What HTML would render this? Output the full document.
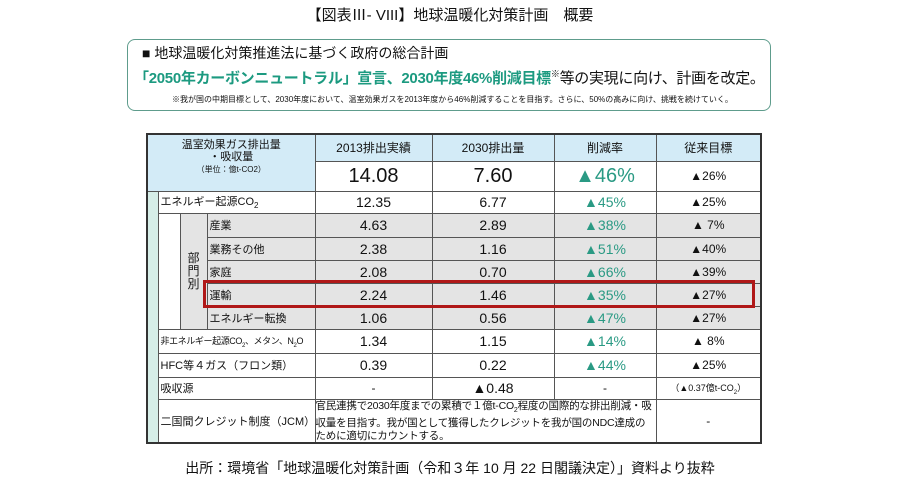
<!DOCTYPE html>
<html><head><meta charset="utf-8">
<style>
body{margin:0;width:900px;height:481px;background:#fff;position:relative;font-family:"Liberation Sans","Noto Sans CJK JP",sans-serif;color:#111;overflow:hidden}
.abs{position:absolute}
table{position:absolute;left:146px;top:133px;width:614px;border-collapse:collapse;table-layout:fixed;border:2px solid #333}
td{border:1px solid #555;padding:0;font-size:12px;text-align:center;overflow:hidden;white-space:nowrap}
.hd{background:#d3ebf7}
.g{background:#e4e4e4}
.st{background:#d6eee8;border-top:none;border-bottom:none}
.gr{color:#2a9a84;font-size:14px}
.num{font-size:14px}
.l{text-align:left;padding-left:2px;font-size:11px}
</style></head><body>
<div class="abs" style="left:0;width:900px;top:4px;text-align:center;font-size:15px">【図表Ⅲ- VIII】地球温暖化対策計画　概要</div>
<div class="abs" style="left:127px;top:39px;width:642px;height:70px;border:1.5px solid #5e9c8c;border-radius:8px">
 <div class="abs" style="left:14px;top:3px;font-size:14px">■ 地球温暖化対策推進法に基づく政府の総合計画</div>
 <div class="abs" style="left:6px;top:27px;font-size:15px;letter-spacing:-0.3px;white-space:nowrap"><b style="color:#1c9a80">「2050年カーボンニュートラル」宣言、2030年度46%削減目標</b><sup style="font-size:9px">※</sup>等の実現に向け、計画を改定。</div>
 <div class="abs" style="left:44px;top:54px;font-size:8px;white-space:nowrap">※我が国の中期目標として、2030年度において、温室効果ガスを2013年度から46%削減することを目指す。さらに、50%の高みに向け、挑戦を続けていく。</div>
</div>
<table>
<colgroup><col style="width:11px"><col style="width:22px"><col style="width:27px"><col style="width:108px"><col style="width:117px"><col style="width:122px"><col style="width:102px"><col style="width:105px"></colgroup>
<tr style="height:27px"><td class="hd" colspan="4" rowspan="2" style="font-size:11px;line-height:12px;vertical-align:top;padding-top:4px">温室効果ガス排出量<br>・吸収量<br><span style="font-size:8px">（単位：億t-CO2）</span></td><td class="hd">2013排出実績</td><td class="hd">2030排出量</td><td class="hd">削減率</td><td class="hd">従来目標</td></tr>
<tr style="height:30px"><td style="font-size:20px">14.08</td><td style="font-size:20px">7.60</td><td style="font-size:20px;color:#2a9a84">▲46%</td><td style="font-size:12px">▲26%</td></tr>
<tr style="height:22px"><td class="st"></td><td colspan="3" class="l" style="font-size:11px">エネルギー起源CO<sub style="font-size:8px">2</sub></td><td class="num">12.35</td><td class="num">6.77</td><td class="gr">▲45%</td><td>▲25%</td></tr>
<tr style="height:24px"><td class="st"></td><td rowspan="5" style="border-bottom:1px solid #555"></td><td rowspan="5" class="g" style="font-size:12px;line-height:13px;white-space:normal">部<br>門<br>別</td><td class="g l">産業</td><td class="g num">4.63</td><td class="g num">2.89</td><td class="g gr">▲38%</td><td class="g">▲ 7%</td></tr>
<tr style="height:23px"><td class="st"></td><td class="g l">業務その他</td><td class="g num">2.38</td><td class="g num">1.16</td><td class="g gr">▲51%</td><td class="g">▲40%</td></tr>
<tr style="height:23px"><td class="st"></td><td class="g l">家庭</td><td class="g num">2.08</td><td class="g num">0.70</td><td class="g gr">▲66%</td><td class="g">▲39%</td></tr>
<tr style="height:23px"><td class="st"></td><td class="g l">運輸</td><td class="g num">2.24</td><td class="g num">1.46</td><td class="g gr">▲35%</td><td class="g">▲27%</td></tr>
<tr style="height:23px"><td class="st"></td><td class="g l">エネルギー転換</td><td class="g num">1.06</td><td class="g num">0.56</td><td class="g gr">▲47%</td><td class="g">▲27%</td></tr>
<tr style="height:24px"><td class="st"></td><td colspan="3" class="l" style="font-size:9px;letter-spacing:-0.4px">非エネルギー起源CO<sub style="font-size:6px">2</sub>、メタン、N<sub style="font-size:6px">2</sub>O</td><td class="num">1.34</td><td class="num">1.15</td><td class="gr">▲14%</td><td>▲ 8%</td></tr>
<tr style="height:24px"><td class="st"></td><td colspan="3" class="l">HFC等４ガス（フロン類）</td><td class="num">0.39</td><td class="num">0.22</td><td class="gr">▲44%</td><td>▲25%</td></tr>
<tr style="height:22px"><td class="st"></td><td colspan="3" class="l">吸収源</td><td>-</td><td class="num">▲0.48</td><td>-</td><td style="font-size:9px">（▲0.37億t-CO<sub style="font-size:6px">2</sub>）</td></tr>
<tr style="height:38px"><td class="st"></td><td colspan="3" class="l">二国間クレジット制度（JCM）</td><td colspan="3" style="text-align:left;font-size:10.5px;letter-spacing:-0.2px;line-height:12.5px;white-space:normal;vertical-align:top">官民連携で2030年度までの累積で１億t-CO<sub style="font-size:7px">2</sub>程度の国際的な排出削減・吸収量を目指す。我が国として獲得したクレジットを我が国のNDC達成のために適切にカウントする。</td><td>-</td></tr>
</table>
<div class="abs" style="left:203px;top:280px;width:546px;height:22px;border:3px solid #b01818"></div>
<div class="abs" style="left:0;width:900px;top:458px;text-align:center;font-size:14px">出所：環境省「地球温暖化対策計画（令和３年 10 月 22 日閣議決定）」資料より抜粋</div>
</body></html>
